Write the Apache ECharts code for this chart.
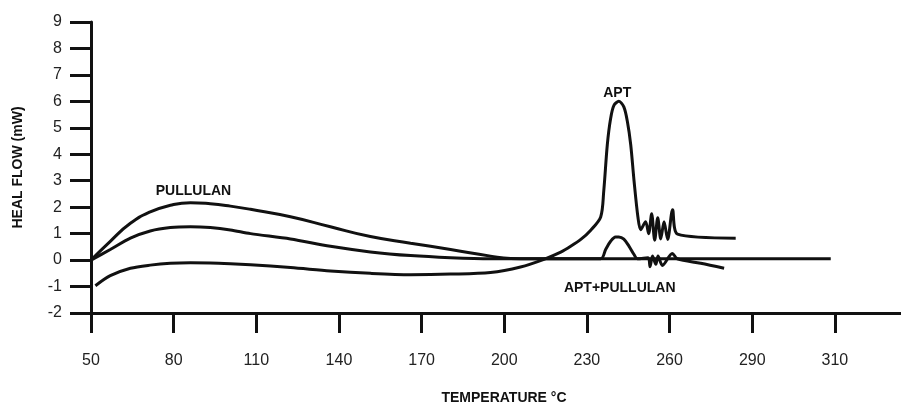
<!DOCTYPE html>
<html>
<head>
<meta charset="utf-8">
<script src="https://cdn.jsdelivr.net/npm/echarts@6/dist/echarts.min.js"></script>
<style>
  html, body { margin: 0; padding: 0; background: #fff; }
  #chart { width: 901px; height: 410px; }
</style>
</head>
<body>
<div id="chart"></div>
<script>
// tick positions and the labels printed under them
var xTickValues = [50, 80, 110, 140, 170, 200, 230, 260, 290, 320]
var xTickLabels = ['50', '80', '110', '140', '170', '200', '230', '260', '290', '310']

// PULLULAN
var pullulanTemp = [50, 57.0, 64.3, 71.5, 78.8, 86.1, 93.3, 100.6, 107.9, 122.4, 136.9, 151.4, 166.0, 180.5, 195.0, 202.3, 209.6, 318.5]
var pullulanFlow = [0, 0.71, 1.39, 1.82, 2.07, 2.17, 2.13, 2.04, 1.92, 1.64, 1.26, 0.89, 0.64, 0.40, 0.15, 0.06, 0.05, 0.05]

// APT+PULLULAN
var mixTemp = [50, 57.0, 64.3, 71.5, 78.8, 86.1, 93.3, 100.6, 107.9, 122.4, 136.9, 151.4, 166.0, 180.5, 195.0, 235.0,
  236.8, 238.6, 240.4, 241.6, 243.4, 245.3, 247.1, 248.3,
  252.2, 252.9, 253.8, 255.0, 255.8, 257.4, 261.0, 262.8, 271.3, 279.8]
var mixFlow = [0, 0.40, 0.83, 1.10, 1.23, 1.26, 1.23, 1.14, 1.0, 0.80, 0.52, 0.31, 0.17, 0.09, 0.05, 0.05,
  0.40, 0.71, 0.87, 0.87, 0.79, 0.52, 0.21, 0.05,
  0.09, -0.25, 0.15, -0.16, 0.15, -0.20, 0.25, 0.05, -0.12, -0.31]

// APT
var aptTemp = [51.6, 57.0, 64.3, 71.5, 78.8, 86.1, 93.3, 100.6, 107.9, 122.4, 136.9, 151.4, 166.0, 180.5, 195.0, 205.9,
  214.4, 220.5, 224.1, 228.0, 231.3, 235.0, 236.1, 237.4, 238.6, 239.8, 241.6, 243.4, 244.7, 245.9, 247.1, 248.5,
  249.5, 251.3, 252.4, 253.5, 254.6, 255.7, 256.8, 258.0, 259.3, 261.1, 262.9, 284.0]
var aptFlow = [-0.97, -0.59, -0.31, -0.19, -0.12, -0.10, -0.11, -0.14, -0.18, -0.28, -0.41, -0.50, -0.55, -0.53, -0.47, -0.26,
  0.03, 0.30, 0.52, 0.80, 1.12, 1.63, 2.6, 4.36, 5.35, 5.85, 6.0, 5.79, 5.23, 4.36, 3.0, 1.64,
  1.15, 1.45, 1.0, 1.75, 0.75, 1.6, 0.8, 1.45, 0.78, 1.9, 0.98, 0.83]

function pairs(xs, ys) {
  return xs.map(function (x, i) { return [x, ys[i]] })
}

var chart = echarts.init(document.getElementById('chart'))

var lineStyle = { color: '#111', width: 3 }
var tagLabel = {
  show: true,
  position: 'inside',
  color: '#111',
  fontSize: 14,
  fontWeight: 'bold',
  fontFamily: 'Liberation Sans, Arial, sans-serif'
}

function tag(text, coord) {
  return {
    symbol: 'circle',
    symbolSize: 0,
    label: Object.assign({ formatter: text }, tagLabel),
    data: [{ coord: coord }]
  }
}

chart.setOption({
  backgroundColor: '#fff',
  animation: false,
  grid: { left: 91, right: 0, top: 22, bottom: 93 },
  xAxis: {
    type: 'value',
    min: 50,
    max: 344,
    name: 'TEMPERATURE °C',
    nameLocation: 'middle',
    nameGap: 78,
    nameTextStyle: {
      color: '#111',
      fontSize: 14,
      fontWeight: 'bold',
      fontFamily: 'Liberation Sans, Arial, sans-serif',
      padding: [0, 0, 0, 16]
    },
    axisLine: { onZero: false, lineStyle: { color: '#111', width: 3 } },
    axisTick: {
      customValues: xTickValues,
      length: 20,
      lineStyle: { color: '#111', width: 3 }
    },
    axisLabel: {
      customValues: xTickValues,
      margin: 40,
      color: '#222',
      fontSize: 16,
      fontFamily: 'Liberation Sans, Arial, sans-serif',
      formatter: function (v) {
        var i = xTickValues.indexOf(v)
        return i >= 0 ? xTickLabels[i] : ''
      }
    },
    splitLine: { show: false }
  },
  yAxis: {
    type: 'value',
    min: -2,
    max: 9,
    interval: 1,
    name: 'HEAL FLOW (mW)',
    nameLocation: 'middle',
    nameGap: 66,
    nameTextStyle: {
      color: '#111',
      fontSize: 14,
      fontWeight: 'bold',
      fontFamily: 'Liberation Sans, Arial, sans-serif'
    },
    axisLine: { show: true, onZero: false, lineStyle: { color: '#111', width: 3 } },
    axisTick: { show: true, length: 21, lineStyle: { color: '#111', width: 3 } },
    axisLabel: {
      margin: 29,
      color: '#222',
      fontSize: 16,
      fontFamily: 'Liberation Sans, Arial, sans-serif'
    },
    splitLine: { show: false }
  },
  series: [
    {
      name: 'PULLULAN',
      type: 'line',
      smooth: true,
      showSymbol: false,
      lineStyle: lineStyle,
      data: pairs(pullulanTemp, pullulanFlow),
      markPoint: tag('PULLULAN', [87.2, 2.6])
    },
    {
      name: 'APT+PULLULAN',
      type: 'line',
      smooth: 0.3,
      showSymbol: false,
      lineStyle: lineStyle,
      data: pairs(mixTemp, mixFlow),
      markPoint: tag('APT+PULLULAN', [241.9, -1.05])
    },
    {
      name: 'APT',
      type: 'line',
      smooth: 0.3,
      showSymbol: false,
      lineStyle: lineStyle,
      data: pairs(aptTemp, aptFlow),
      markPoint: tag('APT', [241.0, 6.3])
    }
  ]
})
</script>
</body>
</html>
